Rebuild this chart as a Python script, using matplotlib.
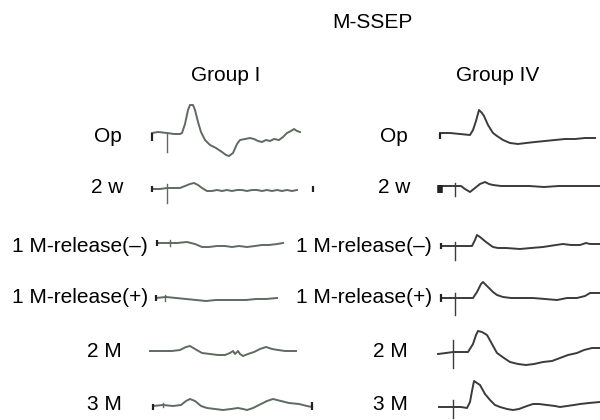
import numpy as np
import matplotlib.pyplot as plt

plt.rcParams['font.family'] = ['Liberation Sans', 'DejaVu Sans']

# ------------------------------------------------------------------------
# date: texte
# ------------------------------------------------------------------------
title = "M-SSEP"
groups = ["Group I", "Group IV"]
rows = ["Op", "2 w", "1 M-release(–)", "1 M-release(+)", "2 M", "3 M"]

# ------------------------------------------------------------------------
# date: unde SSEP, perechi (timp, amplitudine), amplitudine pozitiva = sus
# ------------------------------------------------------------------------
# Group I
g1_op = [(0, 1), (6, 2), (15, 1), (22, 0), (28, 0), (30, 1), (33, 10), (36, 24),
         (38, 29), (41, 29), (43, 24), (46, 12), (49, 2), (53, -6), (58, -11),
         (64, -14), (70, -18), (74, -21), (77, -22), (81, -19), (85, -10),
         (88, -6), (93, -5), (98, -4), (102, -5), (106, -7), (110, -8),
         (114, -6), (118, -7), (122, -5), (127, -6), (131, -3), (135, 1),
         (139, 3), (142, 5), (145, 3), (148, 2)]
g1_2w = [(0, 0), (8, 0), (15, 1), (22, 1), (28, 1), (33, 3), (38, 5), (42, 6),
         (46, 4), (50, 1), (55, -2), (60, -2), (65, -1), (70, -2), (75, -1),
         (80, -2), (85, -1), (90, -1), (95, -2), (100, -1), (105, -1),
         (110, -2), (115, -1), (120, -2), (125, -1), (130, -2), (135, -1),
         (140, -2), (145, -1)]
g1_rel_minus = [(0, 0), (10, 0), (20, 0), (30, 1), (38, -1), (45, -4), (52, -4),
                (60, -3), (68, -3), (75, -4), (82, -3), (90, -4), (98, -3),
                (105, -2), (112, -2), (120, -1), (126, 0)]
g1_rel_plus = [(0, 0), (10, 1), (20, 0), (30, -1), (40, -2), (50, -3), (60, -2),
               (70, -2), (80, -2), (90, -2), (100, -1), (110, -1), (121, 0)]
g1_2m = [(0, 0), (8, 0), (15, 0), (22, 0), (30, 1), (36, 4), (40, 5), (45, 2),
         (52, -2), (60, -3), (68, -4), (75, -4), (80, -2), (83, 0), (85, -3),
         (88, 0), (90, -3), (93, -5), (98, -3), (104, -1), (110, 2), (116, 4),
         (122, 2), (128, 1), (135, 0), (140, 0), (146, 0)]
g1_3m = [(0, 0), (10, 1), (20, 0), (28, 1), (33, 5), (37, 7), (42, 5), (48, 0),
         (54, -2), (62, -3), (70, -4), (78, -3), (85, -2), (90, -3), (94, -4),
         (100, -2), (108, 2), (114, 5), (120, 7), (128, 5), (136, 3),
         (146, 2), (154, 0), (159, -1)]

# Group IV
g4_op = [(0, 0), (10, 0), (20, -1), (30, -2), (33, 3), (36, 12), (39, 23),
         (42, 20), (44, 17), (48, 8), (53, 0), (57, -3), (63, -7), (70, -10),
         (78, -11), (86, -10), (95, -9), (105, -8), (115, -7), (125, -6),
         (135, -6), (145, -5), (155, -5)]
g4_2w = [(0, 0), (8, 0), (16, 0), (22, 0), (26, -3), (31, -6), (36, -2),
         (41, 2), (46, 4), (50, 2), (54, 1), (62, 0), (75, 0), (90, 0),
         (105, -1), (120, 0), (135, 0), (150, 0), (161, 0)]
g4_rel_minus = [(0, 0), (10, 0), (20, 0), (31, 0), (34, 6), (36, 11), (39, 9),
                (45, 4), (52, -1), (57, -2), (65, -2), (79, -3), (90, -2),
                (102, -1), (115, 1), (122, 2), (130, 1), (139, 1), (145, 3),
                (149, 2), (159, 2)]
g4_rel_plus = [(0, 0), (10, 0), (20, 0), (32, 0), (36, 6), (40, 14), (42, 16),
               (46, 12), (52, 6), (56, 3), (62, 1), (70, 0), (80, 0), (92, 0),
               (104, -1), (116, -2), (126, 0), (136, 0), (144, 2), (149, 5),
               (159, 5)]
g4_2m = [(0, -2), (8, -1), (15, 0), (22, 0), (30, 0), (35, 8), (38, 17),
         (40, 21), (44, 20), (49, 17), (54, 8), (59, -1), (66, -6), (72, -10),
         (80, -12), (88, -13), (96, -12), (105, -10), (114, -9), (122, -6),
         (130, -3), (139, -1), (146, 2), (154, 4), (162, 4)]
g4_3m = [(0, 0), (7, 0), (14, 0), (22, 0), (28, -1), (31, 5), (33, 16),
         (35, 26), (38, 24), (41, 22), (46, 13), (51, 7), (56, 2), (61, 0),
         (68, -2), (74, -3), (80, -2), (88, 1), (94, 3), (100, 3), (108, 2),
         (116, 1), (121, 0), (128, 1), (135, 2), (141, 3), (150, 4), (161, 5)]

g1_traces = [g1_op, g1_2w, g1_rel_minus, g1_rel_plus, g1_2m, g1_3m]
g4_traces = [g4_op, g4_2w, g4_rel_minus, g4_rel_plus, g4_2m, g4_3m]

# artefact de stimul: (timp, sus, jos)
g1_artifacts = [(15, 0, -18), (15, 5, -14), (13, 3, -3), (9, 3, -3), None, (10, 3, -1)]
g4_artifacts = [None, (16, 3, -10), (14, 4, -14), (14, 5, -17), (15, 12, -16), (14, 7, -11)]

# repere de inceput / sfarsit: (timp, sus, jos)
g1_marks = [[(0, 1, -7)], [(0, 3, -3), (161, 3, -3)], [(0, 3, -3)], [(0, 3, -3)],
            [], [(0, 2, -4), (159, 4, -4)]]
g4_marks = [[(0, 0, -6)], [(1, 1, -7)], [(0, 3, -3)], [(0, 4, -4)], [], []]

# ------------------------------------------------------------------------
# asezare in pagina (pixeli)
# ------------------------------------------------------------------------
trace_x0 = [[152, 152, 157, 156, 150, 153], [440, 439, 441, 441, 438, 439]]
trace_y0 = [[134, 189, 243, 298, 351, 406], [133, 186, 246, 298, 352, 407]]
label_right = [[122, 123, 148, 148, 122, 122], [408, 410, 432, 432, 408, 408]]
label_base = [142, 193, 252, 303, 357, 410]
group_x = [226, 498]
line_colors = ["#5f6a60", "#3c3a3e"]
mark_width = [[1.6, 1.6, 1.6, 1.6, 1.6, 1.6], [1.6, 4.0, 1.6, 1.6, 1.6, 1.6]]

# ------------------------------------------------------------------------
# desen
# ------------------------------------------------------------------------
fig = plt.figure(figsize=(6, 4.2), dpi=100)
ax = fig.add_axes([0, 0, 1, 1])
ax.set_xlim(0, 600)
ax.set_ylim(420, 0)
ax.axis("off")

ax.text(372, 28, title, ha="center", va="baseline", fontsize=15)

all_traces = [g1_traces, g4_traces]
all_artifacts = [g1_artifacts, g4_artifacts]
all_marks = [g1_marks, g4_marks]

for c in range(2):
    ax.text(group_x[c], 81, groups[c], ha="center", va="baseline", fontsize=15)
    for r in range(len(rows)):
        x0 = trace_x0[c][r]
        y0 = trace_y0[c][r]
        ax.text(label_right[c][r], label_base[r], rows[r],
                ha="right", va="baseline", fontsize=15)

        pts = np.array(all_traces[c][r], dtype=float)
        ax.plot(x0 + pts[:, 0], y0 - pts[:, 1], color=line_colors[c],
                lw=1.4, solid_joinstyle="round")

        art = all_artifacts[c][r]
        if art is not None:
            ax.plot([x0 + art[0]] * 2, [y0 - art[1], y0 - art[2]],
                    color=line_colors[c], lw=1.0)

        for m in all_marks[c][r]:
            ax.plot([x0 + m[0]] * 2, [y0 - m[1], y0 - m[2]],
                    color="#222222", lw=mark_width[c][r], solid_capstyle="butt")

fig.savefig("out.png", dpi=100)
